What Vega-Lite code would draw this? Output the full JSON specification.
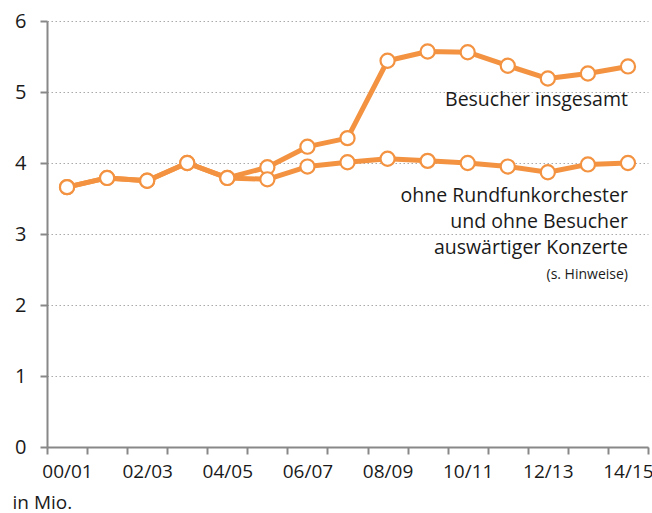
{
  "$schema": "https://vega.github.io/schema/vega-lite/v6.json",
  "width": 601,
  "height": 426,
  "autosize": "none",
  "padding": {"left": 47, "top": 21, "right": 4, "bottom": 66},
  "config": {
    "view": {"stroke": null},
    "font": "Open Sans",
    "axis": {"labelFont": "Open Sans", "titleFont": "Open Sans"}
  },
  "datasets": {
    "series": [
      {"season": "00/01", "series": "insgesamt", "value": 3.66},
      {"season": "01/02", "series": "insgesamt", "value": 3.79},
      {"season": "02/03", "series": "insgesamt", "value": 3.75},
      {"season": "03/04", "series": "insgesamt", "value": 4.0},
      {"season": "04/05", "series": "insgesamt", "value": 3.79},
      {"season": "05/06", "series": "insgesamt", "value": 3.94},
      {"season": "06/07", "series": "insgesamt", "value": 4.23},
      {"season": "07/08", "series": "insgesamt", "value": 4.35},
      {"season": "08/09", "series": "insgesamt", "value": 5.44},
      {"season": "09/10", "series": "insgesamt", "value": 5.57},
      {"season": "10/11", "series": "insgesamt", "value": 5.56},
      {"season": "11/12", "series": "insgesamt", "value": 5.37},
      {"season": "12/13", "series": "insgesamt", "value": 5.19},
      {"season": "13/14", "series": "insgesamt", "value": 5.26},
      {"season": "14/15", "series": "insgesamt", "value": 5.36},
      {"season": "00/01", "series": "ohne", "value": 3.66},
      {"season": "01/02", "series": "ohne", "value": 3.79},
      {"season": "02/03", "series": "ohne", "value": 3.75},
      {"season": "03/04", "series": "ohne", "value": 4.0},
      {"season": "04/05", "series": "ohne", "value": 3.79},
      {"season": "05/06", "series": "ohne", "value": 3.77},
      {"season": "06/07", "series": "ohne", "value": 3.95},
      {"season": "07/08", "series": "ohne", "value": 4.01},
      {"season": "08/09", "series": "ohne", "value": 4.06},
      {"season": "09/10", "series": "ohne", "value": 4.03},
      {"season": "10/11", "series": "ohne", "value": 4.0},
      {"season": "11/12", "series": "ohne", "value": 3.95},
      {"season": "12/13", "series": "ohne", "value": 3.87},
      {"season": "13/14", "series": "ohne", "value": 3.98},
      {"season": "14/15", "series": "ohne", "value": 4.0}
    ],
    "labels": [
      {"season": "14/15", "value": 4.89, "label": "Besucher insgesamt", "size": 19.5},
      {"season": "14/15", "value": 3.54, "label": "ohne Rundfunkorchester", "size": 19.5},
      {"season": "14/15", "value": 3.17, "label": "und ohne Besucher", "size": 19.5},
      {"season": "14/15", "value": 2.80, "label": "auswärtiger Konzerte", "size": 19.5},
      {"season": "14/15", "value": 2.42, "label": "(s. Hinweise)", "size": 14}
    ]
  },
  "encoding": {
    "x": {
      "field": "season",
      "type": "ordinal",
      "scale": {"paddingInner": 0, "paddingOuter": 0},
      "axis": {
        "tickBand": "extent",
        "labelAngle": 0,
        "labelExpr": "parseInt(substring(datum.value,0,2)) % 2 == 0 ? datum.label : ''",
        "labelFontSize": 19,
        "labelColor": "#1a1a1a",
        "labelPadding": 8,
        "domainColor": "#888888",
        "domainWidth": 2,
        "tickColor": "#888888",
        "tickWidth": 2,
        "tickSize": 7,
        "title": "in Mio.",
        "titleFontSize": 19,
        "titleFontWeight": "normal",
        "titleColor": "#1a1a1a",
        "titleAnchor": "start",
        "titleAlign": "left",
        "titleBaseline": "alphabetic",
        "titleX": -35,
        "titleY": 61
      }
    },
    "y": {
      "field": "value",
      "type": "quantitative",
      "scale": {"domain": [0, 6], "nice": false},
      "axis": {
        "values": [0, 1, 2, 3, 4, 5, 6],
        "title": null,
        "labelFontSize": 20,
        "labelColor": "#1a1a1a",
        "labelPadding": 14,
        "domainColor": "#888888",
        "domainWidth": 2,
        "tickColor": "#888888",
        "tickWidth": 2,
        "tickSize": 7,
        "grid": true,
        "gridColor": "#aaaaaa",
        "gridDash": [1.5, 2.5],
        "gridWidth": 1.2
      }
    }
  },
  "layer": [
    {
      "data": {"name": "series"},
      "mark": {"type": "line", "color": "#F39341", "strokeWidth": 5, "strokeJoin": "round"},
      "encoding": {"detail": {"field": "series"}}
    },
    {
      "data": {"name": "series"},
      "mark": {"type": "point", "shape": "circle", "size": 200, "filled": true, "fill": "white", "stroke": "#F39341", "strokeWidth": 2.2, "opacity": 1}
    },
    {
      "data": {"name": "labels"},
      "mark": {"type": "text", "align": "right", "baseline": "middle", "color": "#1a1a1a", "dx": 0},
      "encoding": {
        "text": {"field": "label"},
        "size": {"field": "size", "type": "quantitative", "scale": null}
      }
    }
  ]
}
